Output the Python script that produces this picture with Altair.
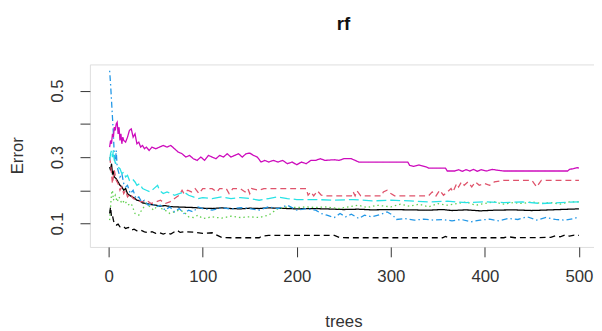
import altair as alt
import pandas as pd

# ---- data (trees, error) ----
oob_t = [1,2,3,4,5,6,8,10,12,14,16,18,20,22,25,28,30,33,36,40,45,50,55,60,65,70,80,90,100,110,120,130,140,150,160,170,180,190,200,215,230,250,265,280,300,320,340,355,365,380,395,410,430,450,470,490,500]
oob_v = [0.27,0.26,0.28,0.25,0.255,0.24,0.235,0.225,0.215,0.21,0.2,0.205,0.19,0.185,0.18,0.175,0.17,0.168,0.162,0.16,0.157,0.155,0.152,0.154,0.151,0.15,0.149,0.148,0.146,0.145,0.147,0.145,0.144,0.146,0.145,0.147,0.146,0.145,0.144,0.145,0.144,0.142,0.143,0.141,0.142,0.141,0.140,0.142,0.139,0.141,0.138,0.140,0.141,0.139,0.141,0.143,0.144]

c1_t = [1,2,3,4,5,6,8,10,12,14,16,18,20,23,26,30,35,40,45,50,55,60,65,70,75,78,80,84,88,92,96,100,110,115,118,125,128,132,140,145,148,150,152,160,165,210,212,215,218,222,226,230,258,260,262,264,268,290,292,296,300,304,340,344,348,352,356,360,364,366,370,372,375,378,382,386,390,394,400,405,410,420,450,455,460,500]
c1_v = [0.30,0.28,0.25,0.22,0.24,0.26,0.23,0.22,0.2,0.21,0.19,0.2,0.18,0.19,0.175,0.17,0.165,0.17,0.16,0.165,0.17,0.16,0.165,0.175,0.185,0.2,0.19,0.2,0.195,0.205,0.19,0.205,0.205,0.195,0.205,0.205,0.19,0.205,0.205,0.195,0.205,0.19,0.205,0.2,0.205,0.205,0.185,0.195,0.183,0.198,0.185,0.183,0.183,0.195,0.183,0.198,0.183,0.183,0.195,0.2,0.19,0.183,0.183,0.195,0.183,0.2,0.185,0.195,0.205,0.195,0.22,0.21,0.225,0.215,0.225,0.21,0.225,0.215,0.22,0.215,0.225,0.23,0.23,0.21,0.23,0.23]

c2_t = [1,2,3,4,5,7,9,11,14,17,20,24,28,32,35,40,44,48,52,56,60,65,70,75,80,85,90,95,100,110,120,130,140,150,160,170,175,180,190,200,210,220,230,245,255,265,275,285,300,310,320,330,340,350,360,370,380,390,400,410,420,430,440,450,460,470,480,490,500]
c2_v = [0.11,0.15,0.19,0.2,0.17,0.185,0.165,0.18,0.16,0.17,0.155,0.16,0.13,0.125,0.14,0.16,0.15,0.14,0.155,0.145,0.14,0.13,0.135,0.14,0.135,0.12,0.118,0.125,0.115,0.12,0.116,0.122,0.118,0.12,0.118,0.125,0.135,0.145,0.15,0.148,0.15,0.148,0.15,0.145,0.15,0.155,0.148,0.155,0.15,0.158,0.152,0.158,0.15,0.16,0.155,0.16,0.165,0.155,0.16,0.165,0.158,0.163,0.16,0.165,0.16,0.163,0.158,0.165,0.165]

c3_t = [1,2,3,4,5,6,7,8,9,10,12,14,16,18,20,23,26,29,32,35,38,42,46,50,55,60,65,70,75,80,85,90,95,100,110,120,130,140,150,160,170,180,190,200,210,220,226,232,240,246,252,258,266,272,280,290,296,302,306,315,325,335,345,355,365,375,385,395,405,415,425,435,445,455,465,475,485,495,500]
c3_v = [0.56,0.52,0.47,0.42,0.37,0.3,0.28,0.32,0.27,0.26,0.24,0.25,0.22,0.21,0.215,0.19,0.2,0.175,0.18,0.165,0.17,0.155,0.16,0.15,0.155,0.14,0.15,0.135,0.145,0.13,0.14,0.135,0.15,0.145,0.14,0.148,0.143,0.148,0.145,0.14,0.15,0.145,0.155,0.14,0.145,0.14,0.13,0.125,0.118,0.13,0.12,0.128,0.115,0.125,0.12,0.128,0.135,0.125,0.112,0.115,0.11,0.113,0.11,0.112,0.108,0.112,0.105,0.11,0.113,0.108,0.115,0.112,0.12,0.11,0.118,0.112,0.11,0.115,0.12]

c4_t = [1,2,3,4,5,6,8,10,12,14,16,18,20,22,25,28,30,33,36,40,44,48,52,54,58,62,66,70,75,80,85,90,95,100,110,120,130,140,150,160,170,180,190,200,220,240,260,280,300,320,340,360,380,400,420,440,460,480,500]
c4_v = [0.29,0.31,0.32,0.30,0.32,0.29,0.28,0.27,0.265,0.25,0.255,0.24,0.245,0.23,0.235,0.225,0.215,0.22,0.205,0.2,0.195,0.205,0.215,0.2,0.19,0.195,0.19,0.185,0.19,0.195,0.185,0.18,0.175,0.178,0.175,0.18,0.175,0.178,0.175,0.17,0.175,0.18,0.175,0.172,0.172,0.17,0.172,0.168,0.17,0.168,0.165,0.167,0.163,0.165,0.163,0.165,0.16,0.163,0.165]

c5_t = [1,2,3,4,5,6,7,8,9,10,11,12,13,14,15,16,18,20,22,24,26,28,30,32,34,36,38,40,43,46,50,54,58,62,66,70,74,78,82,86,90,94,98,102,106,110,114,118,122,126,130,134,138,142,146,150,154,158,162,166,170,175,180,185,190,195,200,205,210,215,220,225,230,240,245,250,258,262,266,318,320,324,330,338,340,358,360,368,372,376,380,384,388,392,396,402,408,414,420,488,490,494,498,500]
c5_v = [0.33,0.35,0.34,0.37,0.36,0.39,0.38,0.4,0.405,0.37,0.39,0.35,0.37,0.34,0.36,0.35,0.345,0.36,0.38,0.385,0.36,0.37,0.34,0.345,0.33,0.335,0.325,0.33,0.32,0.33,0.325,0.33,0.335,0.33,0.335,0.325,0.315,0.31,0.3,0.305,0.295,0.29,0.3,0.29,0.305,0.3,0.295,0.305,0.3,0.31,0.3,0.305,0.31,0.3,0.31,0.312,0.305,0.3,0.285,0.29,0.285,0.29,0.285,0.29,0.28,0.285,0.277,0.285,0.28,0.29,0.29,0.295,0.29,0.292,0.29,0.295,0.295,0.29,0.285,0.285,0.275,0.272,0.276,0.27,0.267,0.267,0.258,0.258,0.262,0.257,0.262,0.258,0.263,0.257,0.262,0.258,0.263,0.26,0.258,0.258,0.263,0.265,0.268,0.267]

c6_t = [1,2,3,4,5,6,8,10,12,15,18,21,24,27,30,34,38,42,46,50,54,58,62,66,70,73,76,80,90,100,110,115,120,130,160,163,170,240,245,255,355,358,362,420,425,432,470,475,480,485,490,495,500]
c6_v = [0.13,0.15,0.12,0.125,0.11,0.1,0.095,0.098,0.09,0.092,0.085,0.088,0.08,0.083,0.078,0.08,0.075,0.072,0.075,0.07,0.072,0.068,0.072,0.068,0.075,0.079,0.073,0.075,0.074,0.07,0.072,0.065,0.058,0.057,0.057,0.062,0.064,0.064,0.058,0.057,0.057,0.061,0.057,0.057,0.06,0.057,0.058,0.063,0.06,0.065,0.062,0.065,0.064]

series_names = ["OOB", "1", "2", "3", "4", "5", "6"]
series_t = [oob_t, c1_t, c2_t, c3_t, c4_t, c5_t, c6_t]
series_v = [oob_v, c1_v, c2_v, c3_v, c4_v, c5_v, c6_v]
x_ticks = [0, 100, 200, 300, 400, 500]
y_ticks = [0.1, 0.2, 0.3, 0.4, 0.5]
title_text = ["rf"]

rows = []
for name, ts, vs in zip(series_names, series_t, series_v):
    for t, v in zip(ts, vs):
        rows.append({"series": name, "trees": t, "error": v})
df = pd.DataFrame(rows)

colors = ["#000000", "#DF536B", "#61D04F", "#2297E6", "#28E2E5", "#CD0BBC", "#000000"]
dashes = [[1, 0], [6, 4], [1.5, 3], [1.5, 3, 6, 3], [10, 4], [1, 0], [6, 4]]

FONT = "Liberation Sans"
TXT = "#333333"

lines = alt.Chart(df).mark_line(strokeWidth=1.3, clip=True).encode(
    x=alt.X("trees:Q",
            scale=alt.Scale(domain=[-20, 516], nice=False, zero=False),
            axis=alt.Axis(values=x_ticks, tickSize=10, tickColor="#333333", domain=False, grid=False,
                          labelFont=FONT, labelFontSize=17, labelColor=TXT, labelPadding=12,
                          title="trees", titleFont=FONT, titleFontSize=17, titleFontWeight="normal",
                          titleColor=TXT, titleX=257, titleY=76, titleBaseline="middle")),
    y=alt.Y("error:Q",
            scale=alt.Scale(domain=[0.0293, 0.579], nice=False, zero=False),
            axis=alt.Axis(values=y_ticks, tickSize=10, tickColor="#333333", domain=False, grid=False,
                          labelExpr="(datum.value > 0.15 && datum.value < 0.25) || (datum.value > 0.35 && datum.value < 0.45) ? '' : datum.label",
                          labelAngle=270, labelAlign="center", labelBaseline="bottom",
                          labelFont=FONT, labelFontSize=17, labelColor=TXT, labelPadding=14,
                          title="Error", titleFont=FONT, titleFontSize=17, titleFontWeight="normal",
                          titleColor=TXT, titleX=-73, titleY=92, titleAngle=270,
                          titleAlign="center", titleBaseline="middle")),
    color=alt.Color("series:N", scale=alt.Scale(domain=series_names, range=colors), legend=None),
    strokeDash=alt.StrokeDash("series:N", scale=alt.Scale(domain=series_names, range=dashes), legend=None),
    detail="series:N",
)

title = alt.Chart(pd.DataFrame({"t": title_text})).mark_text(
    font=FONT, fontSize=19, fontWeight="bold", color="#111111", align="center", baseline="middle"
).encode(text="t:N", x=alt.value(257), y=alt.value(-41))

chart = alt.layer(lines, title).properties(
    width=511,
    height=185,
    autosize=alt.AutoSizeParams(type="none"),
    padding={"left": 83, "top": 55, "right": 0, "bottom": 83},
).configure_view(
    stroke="#333333", strokeWidth=1.2
).configure(background="white")

chart.save("out.html", embed_options={"renderer": "svg", "actions": False})
